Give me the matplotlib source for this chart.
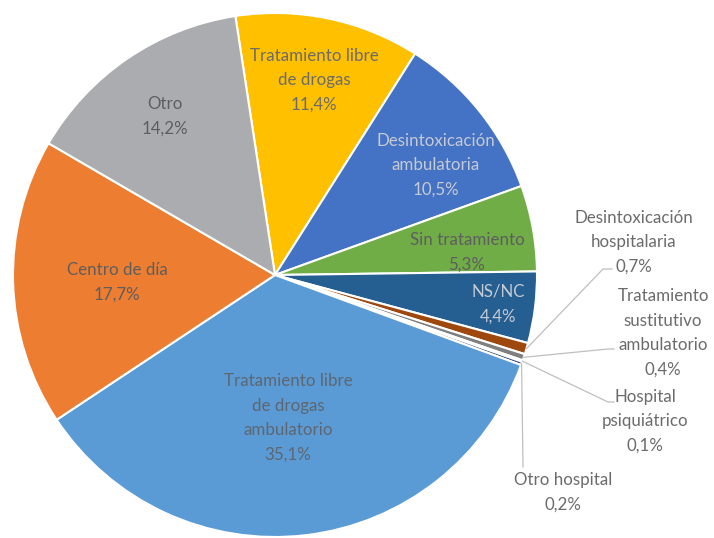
import numpy as np
from matplotlib import pyplot as plt

# data, clockwise from the top
labels = ['Tratamiento libre\nde drogas', 'Desintoxicación\nambulatoria', 'Sin tratamiento',
          'NS/NC', 'Desintoxicación\nhospitalaria', 'Tratamiento\nsustitutivo\nambulatorio',
          'Hospital\npsiquiátrico', 'Otro hospital', 'Tratamiento libre\nde drogas\nambulatorio',
          'Centro de día', 'Otro']
values = [11.4, 10.5, 5.3, 4.4, 0.7, 0.4, 0.1, 0.2, 35.1, 17.7, 14.2]

colors = ['#FFC000', '#4472C4', '#70AD47', '#255E91', '#9E480E', '#7F7F7F',
          '#997300', '#264478', '#5B9BD5', '#ED7D31', '#ABACB0']
text_colors = ['#6B6B6B', '#C5CAD3', '#5E5E5E', '#C5CAD3', '#6B6B6B', '#6B6B6B',
               '#6B6B6B', '#6B6B6B', '#5E6670', '#5E5E5E', '#5E5E5E']

W, H = 714, 538
cx, cy, R = 275, 275, 262
start = -8.7  # degrees clockwise from 12 o'clock

# label centres in pixels (y from top)
label_pos = [(314, 80), (436, 165), (467, 252), (498, 304), (634, 242), (663, 333),
             (645, 421), (563, 492), (288, 418), (117, 282), (165, 116)]
# leader ends for the outside labels
leader_end = {4: [(603, 269), (612, 269)], 5: [(608, 349), (614, 349)],
              6: [(608, 402), (614, 402)], 7: [(523, 467)]}

fig = plt.figure(figsize=(W / 100, H / 100), dpi=100)
ax = fig.add_axes([0, 0, 1, 1])

ax.pie(values, colors=colors, startangle=90 - start, counterclock=False,
       center=(cx, H - cy), radius=R, frame=True,
       wedgeprops=dict(edgecolor='white', linewidth=1.5))
ax.set_xlim(0, W)
ax.set_ylim(0, H)
ax.set_aspect('equal')
ax.axis('off')

total = sum(values)
cum = np.cumsum([0] + values)
for i, (lab, v) in enumerate(zip(labels, values)):
    txt = f"{lab}\n{v:.1f}%".replace('.', ',')
    x, y = label_pos[i]
    ax.text(x, H - y, txt, ha='center', va='center', fontsize=12.2,
            family=['Lato', 'DejaVu Sans'], color=text_colors[i], linespacing=1.65)
    if i in leader_end:
        mid = np.radians(start + (cum[i] + cum[i + 1]) / 2 / total * 360)
        pts = [(cx + R * np.sin(mid), cy - R * np.cos(mid))] + leader_end[i]
        ax.plot([p[0] for p in pts], [H - p[1] for p in pts], color='#BFBFBF', lw=0.9)

plt.savefig('out.png', dpi=100)
